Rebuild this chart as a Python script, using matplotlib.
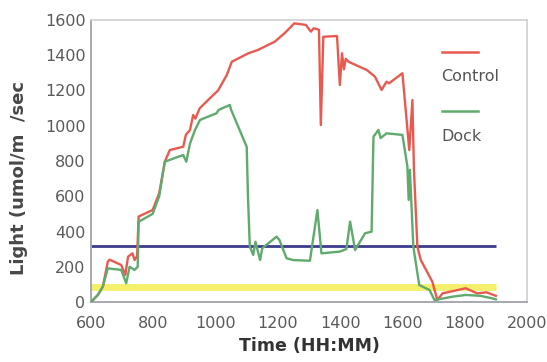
import matplotlib
matplotlib.use("Agg")
import matplotlib.pyplot as plt

# Control (red) series
control_t = [600, 622, 638, 654, 660, 697, 710, 719, 733, 740, 748, 753, 798, 819, 837, 853, 896,
             905, 918, 928, 935, 949, 965, 987, 1008, 1036, 1052, 1105, 1136, 1190, 1221, 1253,
             1290, 1306, 1315, 1332, 1338, 1346, 1390, 1399, 1406, 1412, 1418, 1427, 1486, 1512,
             1533, 1549, 1557, 1600, 1622, 1632, 1637, 1648, 1659, 1696, 1712, 1729, 1803, 1840,
             1870, 1900]
control_v = [0, 40, 87, 229, 240, 210, 153, 257, 276, 238, 260, 485, 522, 617, 796, 862, 881,
             950, 976, 1061, 1040, 1099, 1127, 1165, 1200, 1288, 1363, 1411, 1430, 1477, 1524, 1581,
             1572, 1534, 1553, 1545, 1004, 1505, 1509, 1231, 1411, 1320, 1380, 1363, 1316, 1278,
             1203, 1250, 1241, 1298, 862, 1146, 749, 314, 238, 115, 11, 49, 78, 49,
             55, 35]

# Dock (green) series
dock_t = [600, 622, 638, 654, 697, 713, 724, 740, 750, 753, 798, 819, 837, 896, 906, 918, 934,
          950, 1003, 1010, 1046, 1050, 1100, 1104, 1110, 1121, 1128, 1143, 1150, 1196, 1205, 1228,
          1249, 1303, 1327, 1340, 1399, 1420, 1432, 1448, 1480, 1501, 1507, 1523, 1530, 1549,
          1600, 1616, 1620, 1624, 1635, 1654, 1687, 1703, 1760, 1803, 1850, 1888, 1900]
dock_v = [0, 40, 87, 191, 182, 106, 200, 182, 200, 455, 500, 600, 796, 834, 796, 900, 976,
          1033, 1071, 1090, 1118, 1090, 880, 600, 314, 267, 342, 238, 305, 371, 352, 248,
          238, 234, 522, 276, 286, 300, 456, 295, 390, 399, 938, 976, 930, 957,
          948, 768, 579, 750, 314, 96, 68, 11, 30, 40, 35, 21, 15]

# Reference levels
blue_level = 320
yellow_level = 87
level_t = [600, 1900]

x_ticks = [600, 800, 1000, 1200, 1400, 1600, 1800, 2000]
y_ticks = [0, 200, 400, 600, 800, 1000, 1200, 1400, 1600]
legend_labels = ["Control", "Dock"]

RED = "#e85a4f"
GREEN = "#5faa6c"
BLUE = "#3c3c8e"
YELLOW = "#f4f06c"

fig = plt.figure(figsize=(5.47, 3.62), dpi=100)
ax = fig.add_axes([91 / 547, 1 - 302 / 362, 436 / 547, 282 / 362])

ax.plot(level_t, [yellow_level] * 2, color=YELLOW, lw=5, solid_capstyle="butt", zorder=1)
ax.plot(level_t, [blue_level] * 2, color=BLUE, lw=2, solid_capstyle="butt", zorder=2)
ax.plot(control_t, control_v, color=RED, lw=1.7, zorder=3)
ax.plot(dock_t, dock_v, color=GREEN, lw=1.7, zorder=4)

ax.set_xlim(600, 2000)
ax.set_ylim(0, 1600)
ax.set_xticks(x_ticks)
ax.set_yticks(y_ticks)
ax.tick_params(length=0, labelsize=11.5, labelcolor="#5a5a5a")
ax.tick_params(axis="x", pad=10)
ax.tick_params(axis="y", pad=4)

for side in ["left", "bottom"]:
    ax.spines[side].set_color("#9a9aa4")
    ax.spines[side].set_linewidth(1.2)
for side in ["top", "right"]:
    ax.spines[side].set_color("#cfcfd4")
    ax.spines[side].set_linewidth(1.2)

ax.set_ylabel("Light (umol/m  /sec", fontsize=13, fontweight="bold", color="#474747")
ax.yaxis.set_label_coords(-0.145, 0.44)
ax.set_xlabel("Time (HH:MM)", fontsize=12.5, fontweight="bold", color="#333333")
ax.xaxis.set_label_coords(0.502, -0.125)

# Custom legend: line above label
for color, label, yl, yt in [(RED, legend_labels[0], 0.888, 0.80),
                             (GREEN, legend_labels[1], 0.677, 0.586)]:
    ax.plot([0.804, 0.888], [yl, yl], color=color, lw=1.8, transform=ax.transAxes)
    ax.text(0.804, yt, label, transform=ax.transAxes, fontsize=11.5, color="#555555",
            va="center", ha="left")

fig.savefig("out.png", dpi=100)
